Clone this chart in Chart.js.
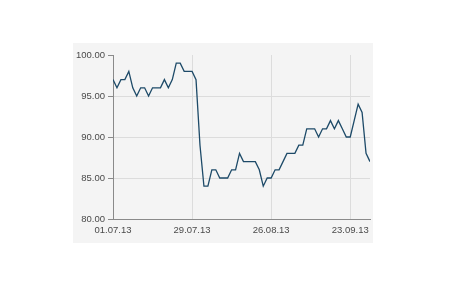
<!DOCTYPE html>
<html>
<head>
<meta charset="utf-8">
<script src="https://cdn.jsdelivr.net/npm/chart.js@4/dist/chart.umd.min.js"></script>
<style>
  html, body { margin: 0; padding: 0; background: #fff; }
  #wrap { width: 450px; height: 300px; }
</style>
</head>
<body>
<div id="wrap"><canvas id="price"></canvas></div>
<script>
// closing prices, one per trading day from 01.07.13 to 30.09.13
let prices = [
  97, 96, 97, 97, 98, 96, 95, 96, 96, 95,
  96, 96, 96, 97, 96, 97, 99, 99, 98, 98,
  98, 97, 89, 84, 84, 86, 86, 85, 85, 85,
  86, 86, 88, 87, 87, 87, 87, 86, 84, 85,
  85, 86, 86, 87, 88, 88, 88, 89, 89, 91,
  91, 91, 90, 91, 91, 92, 91, 92, 91, 90,
  90, 92, 94, 93, 88, 87
]
// tick labels and the trading day they sit on
let tickLabels = ['01.07.13', '29.07.13', '26.08.13', '23.09.13']
let tickDays = [0, 20, 40, 60]
let yTicks = [80, 85, 90, 95, 100]

let points = prices.map((v, i) => ({ x: i, y: v }))

Chart.defaults.font.family = "'Liberation Sans', Arial, sans-serif"
Chart.defaults.font.size = 9.5
Chart.defaults.color = '#4a4a4a'

// grey panel behind the plot
const panel = {
  id: 'panel',
  beforeDraw(chart) {
    const a = chart.chartArea
    const c = chart.ctx
    c.save()
    c.fillStyle = '#f4f4f4'
    c.fillRect(a.left - 40, a.top - 12, a.right - a.left + 43, a.bottom - a.top + 36)
    c.restore()
  }
}

let graph = document.getElementById('price')
let lineGraph = new Chart(graph, {
  type: 'line',
  data: {
    datasets: [{
      data: points,
      borderColor: '#1d4a68',
      borderWidth: 1.3,
      pointRadius: 0,
      fill: false,
      tension: 0
    }]
  },
  options: {
    responsive: true,
    maintainAspectRatio: false,
    animation: false,
    layout: { padding: { top: 55, right: 80, left: 0, bottom: 0 } },
    plugins: { legend: { display: false }, tooltip: { enabled: false } },
    scales: {
      x: {
        type: 'linear',
        min: 0,
        max: 65,
        afterBuildTicks(scale) {
          scale.ticks = tickDays.map(d => ({ value: d }))
        },
        afterFit(scale) { scale.height = 81 },
        ticks: {
          padding: 6,
          maxRotation: 0,
          autoSkip: false,
          callback(v) {
            let k = tickDays.indexOf(v)
            return k >= 0 ? tickLabels[k] : ''
          }
        },
        grid: { color: '#dcdcdc', drawTicks: false },
        border: { color: '#8a8a8a' }
      },
      y: {
        min: 80,
        max: 100,
        afterBuildTicks(scale) {
          scale.ticks = yTicks.map(v => ({ value: v }))
        },
        afterFit(scale) { scale.width = 113 },
        ticks: {
          padding: 3,
          callback: v => v.toFixed(2)
        },
        grid: {
          color: ctx => (ctx.tick && ctx.tick.value === 100) ? 'rgba(0,0,0,0)' : '#dcdcdc',
          tickColor: '#8a8a8a',
          tickLength: 5
        },
        border: { color: '#8a8a8a' }
      }
    }
  },
  plugins: [panel]
})
</script>
</body>
</html>
